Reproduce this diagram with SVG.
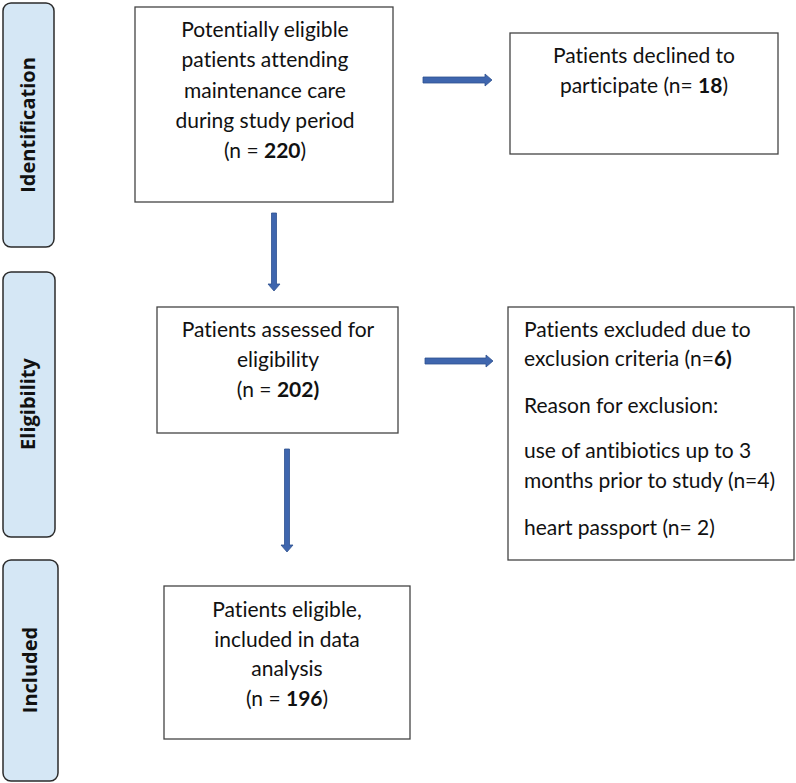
<svg xmlns="http://www.w3.org/2000/svg" width="796" height="783" viewBox="0 0 796 783">
<style>
.stage{fill:#D5E7F5;stroke:#2b2b2b;stroke-width:1.5}
.stxt{font-family:"Open Sans","DejaVu Sans",sans-serif;font-weight:700;font-size:20px;fill:#111;text-anchor:middle}
.box{fill:#fff;stroke:#444;stroke-width:1.3}
.t{font-family:Lato,"Liberation Sans",sans-serif;font-size:21px;fill:#111;font-variant-ligatures:none}
.c{text-anchor:middle}
.b{font-weight:700}
.arrow{fill:#3F66AE;stroke:#2F528F;stroke-width:0.8}
</style>
<rect width="796" height="783" fill="#fff"/>
<g id="stage-identification">
<rect class="stage" x="3" y="3" width="51" height="244" rx="8"/>
<text class="stxt" transform="translate(35,125) rotate(-90)">Identification</text>
</g>
<g id="stage-eligibility">
<rect class="stage" x="3" y="272" width="52" height="265" rx="8"/>
<text class="stxt" transform="translate(35,404) rotate(-90)">Eligibility</text>
</g>
<g id="stage-included">
<rect class="stage" x="3" y="560" width="55" height="221" rx="8"/>
<text class="stxt" transform="translate(37,670) rotate(-90)">Included</text>
</g>
<g id="node-potential">
<rect class="box" x="135" y="7" width="258" height="195"/>
<text class="t c" x="265" y="37">Potentially eligible</text>
<text class="t c" x="265" y="67">patients attending</text>
<text class="t c" x="265" y="98">maintenance care</text>
<text class="t c" x="265" y="128">during study period</text>
<text class="t c" x="265" y="158">(n = <tspan class="b">220</tspan>)</text>
</g>
<g id="node-declined">
<rect class="box" x="510" y="33" width="268" height="121"/>
<text class="t c" x="644" y="63">Patients declined to</text>
<text class="t c" x="644" y="93">participate (n= <tspan class="b">18</tspan>)</text>
</g>
<g id="node-assessed">
<rect class="box" x="157" y="307" width="241" height="126"/>
<text class="t c" x="278" y="337">Patients assessed for</text>
<text class="t c" x="278" y="367">eligibility</text>
<text class="t c" x="278" y="397">(n = <tspan class="b">202)</tspan></text>
</g>
<g id="node-excluded">
<rect class="box" x="508" y="307" width="286" height="253"/>
<text class="t" x="524" y="337">Patients excluded due to</text>
<text class="t" x="524" y="366">exclusion criteria (n=<tspan class="b">6)</tspan></text>
<text class="t" x="524" y="413">Reason for exclusion:</text>
<text class="t" x="524" y="458">use of antibiotics up to 3</text>
<text class="t" x="524" y="488">months prior to study (n=4)</text>
<text class="t" x="524" y="535">heart passport (n= 2)</text>
</g>
<g id="node-included">
<rect class="box" x="164" y="586" width="246" height="153"/>
<text class="t c" x="287" y="617">Patients eligible,</text>
<text class="t c" x="287" y="647">included in data</text>
<text class="t c" x="287" y="676">analysis</text>
<text class="t c" x="287" y="706">(n = <tspan class="b">196</tspan>)</text>
</g>
<g id="connectors">
<path class="arrow" d="M423,77 H485 V74 L492,80 L485,86 V83 H423 Z"/>
<path class="arrow" d="M425,358 H486 V355 L493,361 L486,367 V364 H425 Z"/>
<path class="arrow" d="M271.5,213 V284 H268 L274,291 L280,284 H276.5 V213 Z"/>
<path class="arrow" d="M284.5,449 V545 H281 L287,552 L293,545 H289.5 V449 Z"/>
</g>
</svg>
